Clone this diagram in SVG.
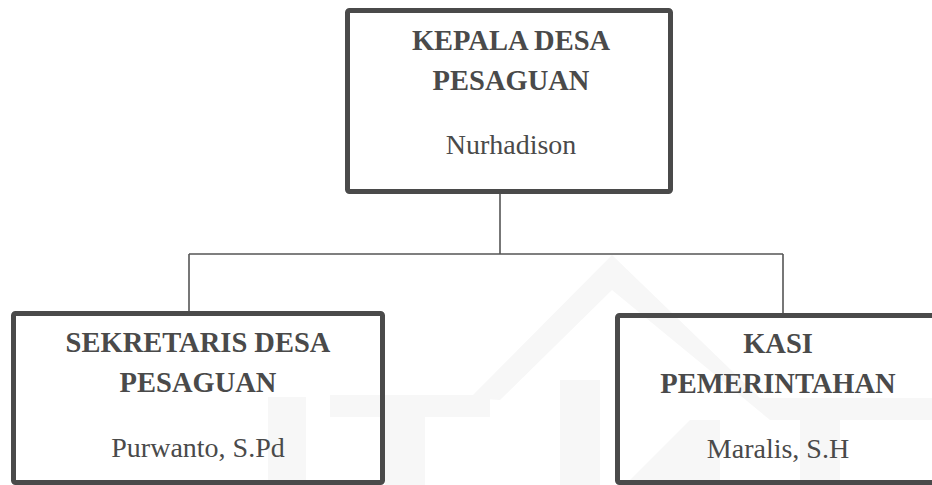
<svg xmlns="http://www.w3.org/2000/svg" width="932" height="485" viewBox="0 0 932 485">
<style>
.wm{fill:#f7f7f7;stroke:none}
.box{fill:none;stroke:#4a4a4a;stroke-width:5}
.conn{fill:none;stroke:#555555;stroke-width:1.6}
.t{font-family:'Liberation Serif','Times New Roman',serif;font-weight:bold;font-size:28.5px;fill:#4a4a4a;text-anchor:middle}
.n{font-family:'Liberation Serif','Times New Roman',serif;font-size:28px;fill:#4a4a4a;text-anchor:middle}
</style>
<rect width="932" height="485" fill="#ffffff"/>
<g id="watermark">
<polygon class="wm" points="470,398 612,255 760,398 932,398 932,420 770,420 612,290 500,400"/>
<rect class="wm" x="268" y="397" width="38" height="88"/>
<rect class="wm" x="330" y="395" width="160" height="22"/>
<rect class="wm" x="385" y="417" width="40" height="68"/>
<rect class="wm" x="560" y="380" width="40" height="105"/>
<polygon class="wm" points="625,485 690,420 720,420 720,485"/>
<rect class="wm" x="800" y="415" width="40" height="70"/>
</g>
<g id="connectors">
<line class="conn" x1="500" y1="193" x2="500" y2="254"/>
<line class="conn" x1="189" y1="254" x2="783" y2="254"/>
<line class="conn" x1="189" y1="254" x2="189" y2="312"/>
<line class="conn" x1="783" y1="254" x2="783" y2="314"/>
</g>
<g id="kepala">
<rect class="box" x="347.5" y="10.5" width="323" height="181" rx="2"/>
<text class="t" x="511" y="50">KEPALA DESA</text>
<text class="t" x="511" y="90">PESAGUAN</text>
<text class="n" x="511" y="154">Nurhadison</text>
</g>
<g id="sekretaris">
<rect class="box" x="13.5" y="313.5" width="369" height="169" rx="2"/>
<text class="t" x="198" y="352">SEKRETARIS DESA</text>
<text class="t" x="198" y="392">PESAGUAN</text>
<text class="n" x="198" y="457">Purwanto, S.Pd</text>
</g>
<g id="kasi">
<rect class="box" x="617.5" y="315.5" width="340" height="167" rx="2"/>
<text class="t" x="778" y="353">KASI</text>
<text class="t" x="778" y="393">PEMERINTAHAN</text>
<text class="n" x="778" y="458">Maralis, S.H</text>
</g>
</svg>
